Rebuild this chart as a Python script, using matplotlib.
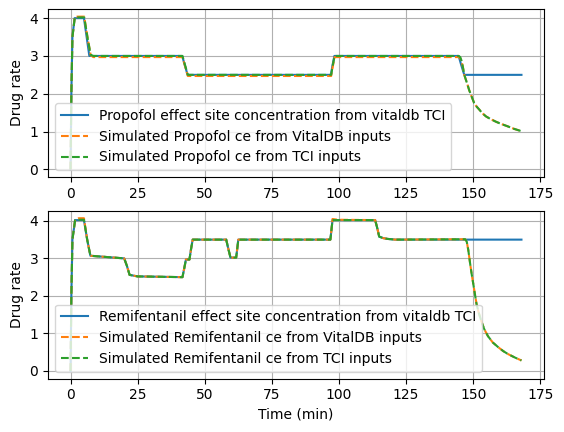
import matplotlib
matplotlib.use("Agg")
import matplotlib.pyplot as plt

# Propofol (top)
t_prop_tci = [0, 0.3, 0.7, 1.5, 5.0, 6.0, 7.0, 41.6, 42.6, 43.6, 97.0, 97.6, 98.3,
              144.6, 145.6, 146.7, 168]
prop_tci = [0, 2.0, 3.5, 4.0, 4.0, 3.5, 3.0, 3.0, 2.75, 2.5, 2.5, 2.75, 3.0,
            3.0, 2.75, 2.5, 2.5]

t_prop_sim = [0, 0.3, 0.7, 1.6, 5.1, 6.3, 7.5, 8.5, 41.7, 42.7, 43.7, 97.1, 97.7, 98.4,
              144.6, 145.2, 145.8, 146.3, 146.7, 147.3, 147.9, 148.5, 149.2, 149.8, 150.4,
              151.3, 152.3, 153.5, 154.8, 156.5, 158.5, 160.5, 162.8, 165.3, 168]
prop_sim_vitaldb = [0, 2.0, 3.5, 4.04, 4.04, 3.5, 3.02, 2.97, 2.97, 2.72, 2.47, 2.47, 2.72, 2.97,
                    2.97, 2.94, 2.83, 2.66, 2.5, 2.37, 2.24, 2.1, 1.97, 1.86, 1.75,
                    1.66, 1.58, 1.48, 1.40, 1.33, 1.26, 1.20, 1.14, 1.07, 1.01]
prop_sim_tci = [0, 2.0, 3.5, 4.02, 4.02, 3.5, 3.03, 3.0, 3.0, 2.75, 2.5, 2.5, 2.75, 3.0,
                3.0, 2.97, 2.85, 2.66, 2.5, 2.37, 2.24, 2.1, 1.97, 1.86, 1.75,
                1.66, 1.58, 1.48, 1.40, 1.33, 1.26, 1.20, 1.14, 1.07, 1.01]

# Remifentanil (bottom)
t_remi_tci = [0, 0.3, 0.7, 1.7, 5.0, 6.2, 7.4, 20.0, 21.0, 22.0, 25.0, 41.7, 42.4, 43.0,
              44.3, 44.9, 45.5, 58.0, 58.8, 59.6, 61.7, 62.1, 62.5, 96.8, 97.2, 97.6,
              113.5, 114.3, 115.0, 116.5, 118.0, 121.0, 168]
remi_tci = [0, 2.0, 3.5, 4.02, 4.02, 3.5, 3.07, 3.0, 2.8, 2.56, 2.52, 2.5, 2.75, 2.97,
            2.97, 3.25, 3.5, 3.5, 3.25, 3.02, 3.02, 3.25, 3.5, 3.5, 3.75, 4.02,
            4.02, 3.8, 3.58, 3.54, 3.52, 3.5, 3.5]

t_remi_sim = [0, 0.3, 0.7, 1.7, 3.0, 5.0, 6.2, 7.4, 20.0, 21.0, 22.0, 25.0, 41.7, 42.4, 43.0,
              44.3, 44.9, 45.5, 58.0, 58.8, 59.6, 61.7, 62.1, 62.5, 96.8, 97.2, 97.6, 99.5,
              113.5, 114.3, 115.0, 116.5, 118.0, 121.0, 147.0, 147.6, 148.2, 148.9, 149.5,
              150.1, 150.7, 151.3, 152.1, 152.9, 154.1, 155.5, 157.3, 159.4, 161.2,
              163.0, 165.5, 168]
remi_sim_vitaldb = [0, 2.0, 3.5, 4.03, 4.07, 4.07, 3.5, 3.07, 3.0, 2.8, 2.56, 2.52, 2.5, 2.75, 2.97,
                    2.97, 3.25, 3.5, 3.5, 3.25, 3.02, 3.02, 3.25, 3.5, 3.5, 3.75, 4.05, 4.03,
                    4.02, 3.8, 3.58, 3.54, 3.52, 3.5, 3.51, 3.45, 3.22, 2.85, 2.56,
                    2.3, 2.03, 1.77, 1.55, 1.36, 1.12, 0.93, 0.76, 0.63, 0.53,
                    0.45, 0.36, 0.28]
remi_sim_tci = [0, 2.0, 3.5, 4.02, 4.03, 4.03, 3.5, 3.07, 3.0, 2.8, 2.56, 2.52, 2.5, 2.75, 2.97,
                2.97, 3.25, 3.5, 3.5, 3.25, 3.02, 3.02, 3.25, 3.5, 3.5, 3.75, 4.02, 4.02,
                4.02, 3.8, 3.58, 3.54, 3.52, 3.5, 3.51, 3.45, 3.22, 2.85, 2.56,
                2.3, 2.03, 1.77, 1.55, 1.36, 1.12, 0.93, 0.76, 0.63, 0.53,
                0.45, 0.36, 0.28]

fig, (ax1, ax2) = plt.subplots(2, 1, figsize=(5.64, 4.32), dpi=100)
fig.subplots_adjust(left=48 / 564, right=544 / 564, top=1 - 9 / 432,
                    bottom=1 - 378.6 / 432, hspace=0.2)

# Gráfico 1 - Propofol
ax1.plot(t_prop_tci, prop_tci, label="Propofol effect site concentration from vitaldb TCI")
ax1.plot(t_prop_sim, prop_sim_vitaldb, "--", label="Simulated Propofol ce from VitalDB inputs")
ax1.plot(t_prop_sim, prop_sim_tci, "--", label="Simulated Propofol ce from TCI inputs")
ax1.set_ylabel("Drug rate")
ax1.grid(True)
ax1.legend(loc="lower left")

# Gráfico 2 - Remifentanil
ax2.plot(t_remi_tci, remi_tci, label="Remifentanil effect site concentration from vitaldb TCI")
ax2.plot(t_remi_sim, remi_sim_vitaldb, "--", label="Simulated Remifentanil ce from VitalDB inputs")
ax2.plot(t_remi_sim, remi_sim_tci, "--", label="Simulated Remifentanil ce from TCI inputs")
ax2.set_ylabel("Drug rate")
ax2.set_xlabel("Time (min)")
ax2.grid(True)
ax2.legend(loc="lower left")

fig.savefig("out.png", dpi=100)
